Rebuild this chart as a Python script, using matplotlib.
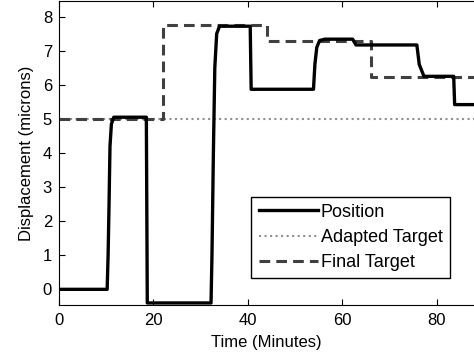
import matplotlib
matplotlib.use('Agg')
import matplotlib.pyplot as plt

plt.rcParams['font.family'] = ['Liberation Sans', 'DejaVu Sans']

# Position trace (minutes, microns)
pos_t = [0, 10.2, 10.4, 10.6, 10.8, 11.1, 11.6, 18.5, 18.7, 32.2, 32.4, 32.7, 33.0,
         33.4, 34.0, 40.5, 40.7, 53.9, 54.2, 54.6, 55.2, 56.3, 62.2, 62.9, 75.8,
         76.3, 77.3, 83.6, 83.8, 90]
pos_y = [0, 0, 1.0, 2.5, 4.2, 4.85, 5.05, 5.05, -0.4, -0.4, 1.0, 4.0, 6.5,
         7.5, 7.72, 7.72, 5.87, 5.87, 6.6, 7.1, 7.3, 7.34, 7.34, 7.17, 7.17,
         6.6, 6.25, 6.25, 5.42, 5.42]

# adapted target
adapt_t = [0, 90]
adapt_y = [5, 5]

# final target (steps)
final_t = [0, 22, 44, 66, 90]
final_y = [5, 7.75, 7.28, 6.23, 6.23]

fig = plt.figure(figsize=(4.74, 3.6), dpi=100)
ax = fig.add_axes([59 / 474, 55 / 360, 1 - 59 / 474, 304 / 360])

ax.plot(adapt_t, adapt_y, color='#909090', linestyle=':', linewidth=1.5, label='Adapted Target')
ax.plot(final_t, final_y, color='#404040', linestyle=(0, (3.5, 2)), linewidth=2.2,
        drawstyle='steps-post', label='Final Target')
ax.plot(pos_t, pos_y, color='black', linewidth=2.4, label='Position')

ax.set_xlim(0, 87.9)
ax.set_ylim(-0.46, 8.46)
ax.set_xticks([0, 20, 40, 60, 80])
ax.set_yticks(range(0, 9))
ax.tick_params(direction='in', top=True, labelsize=12, length=4)
ax.tick_params(axis='x', pad=6)
ax.tick_params(axis='y', pad=5)
ax.spines['right'].set_visible(False)

ax.set_xlabel('Time (Minutes)', fontsize=12, labelpad=5)
ax.set_ylabel('Displacement (microns)', fontsize=12, labelpad=6)

h, l = ax.get_legend_handles_labels()
order = [2, 0, 1]
leg = ax.legend([h[i] for i in order], [l[i] for i in order], loc='lower right',
                bbox_to_anchor=(0.942, 0.088), borderaxespad=0, fontsize=13,
                fancybox=False, edgecolor='black', framealpha=1, handlelength=3.3,
                handletextpad=0.15, labelspacing=0.45, borderpad=0.4)
leg.get_frame().set_linewidth(1.0)

fig.savefig('out.png', dpi=100)
